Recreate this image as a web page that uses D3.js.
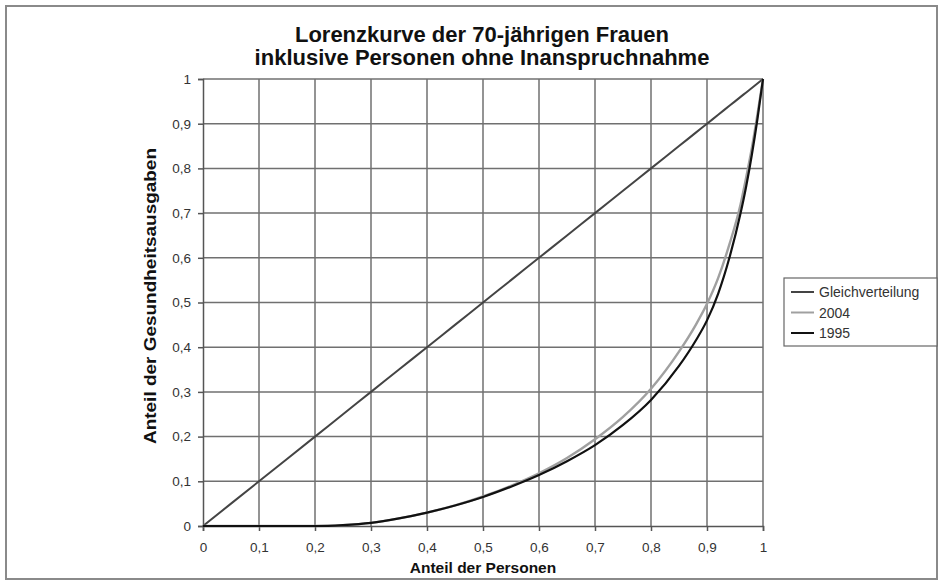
<!DOCTYPE html>
<html><head><meta charset="utf-8">
<script src="https://cdn.jsdelivr.net/npm/d3@7"></script>
<style>body{margin:0;background:#fff}svg{display:block}text{font-family:"Liberation Sans",Arial,sans-serif}</style>
</head><body>
<svg id="c" width="944" height="585"></svg>
<script>
const titleLines = ["Lorenzkurve der 70-jährigen Frauen", "inklusive Personen ohne Inanspruchnahme"];
const xLabel = "Anteil der Personen";
const yLabel = "Anteil der Gesundheitsausgaben";
const tickValues = [0,0.1,0.2,0.3,0.4,0.5,0.6,0.7,0.8,0.9,1];
const tickLabels = ["0","0,1","0,2","0,3","0,4","0,5","0,6","0,7","0,8","0,9","1"];
const seriesNames = ["Gleichverteilung","2004","1995"];
const xShare = [0,0.1,0.2,0.25,0.3,0.35,0.4,0.45,0.5,0.55,0.6,0.65,0.7,0.75,0.8,0.85,0.88,0.9,0.92,0.94,0.96,0.97,0.98,0.99,1];
const equal = xShare.slice();
const y2004 = [0,0,0,0.002,0.007,0.017,0.03,0.046,0.066,0.09,0.118,0.152,0.194,0.244,0.307,0.39,0.45,0.497,0.555,0.63,0.72,0.78,0.845,0.92,1];
const y1995 = [0,0,0,0.002,0.007,0.017,0.03,0.046,0.065,0.088,0.114,0.145,0.181,0.226,0.282,0.358,0.415,0.46,0.52,0.60,0.70,0.76,0.83,0.91,1];

const svg = d3.select("#c");
const L=203, R=763, T=79, B=526;
const x = d3.scaleLinear().domain([0,1]).range([L,R]);
const y = d3.scaleLinear().domain([0,1]).range([B,T]);

svg.append("rect").attr("x",6).attr("y",6).attr("width",931).attr("height",573)
  .attr("fill","#fff").attr("stroke","#8a8a8a").attr("stroke-width",2);

svg.selectAll("text.title").data(titleLines).join("text").attr("class","title")
  .attr("x",482).attr("y",(d,i)=>42+i*23).attr("text-anchor","middle")
  .attr("font-size",22).attr("font-weight","bold").attr("fill","#111").text(d=>d);

// grid
const g = svg.append("g");
g.selectAll("line.vg").data(tickValues.slice(1)).join("line").attr("class","vg")
  .attr("x1",d=>x(d)).attr("x2",d=>x(d)).attr("y1",y(0)).attr("y2",y(1))
  .attr("stroke","#707070").attr("stroke-width",1.5);
g.selectAll("line.hg").data(tickValues.slice(1)).join("line").attr("class","hg")
  .attr("x1",x(0)).attr("x2",x(1)).attr("y1",d=>y(d)).attr("y2",d=>y(d))
  .attr("stroke","#707070").attr("stroke-width",1.5);

// axes
const xAxis = d3.axisBottom(x).tickValues(tickValues).tickFormat((d,i)=>tickLabels[i]).tickSize(5).tickPadding(11);
const yAxis = d3.axisLeft(y).tickValues(tickValues).tickFormat((d,i)=>tickLabels[i]).tickSize(5).tickPadding(7);
const gx = svg.append("g").attr("transform",`translate(0,${B})`).call(xAxis);
const gy = svg.append("g").attr("transform",`translate(${L},0)`).call(yAxis);
[gx,gy].forEach(a=>{
  a.select(".domain").attr("stroke","#555").attr("stroke-width",1.5);
  a.selectAll(".tick line").attr("stroke","#555").attr("stroke-width",1.5);
  a.selectAll(".tick text").attr("font-size",13.5).attr("fill","#333").attr("font-family","Liberation Sans, Arial, sans-serif");
});

svg.append("text").attr("x",483).attr("y",573).attr("text-anchor","middle")
  .attr("font-size",15.5).attr("font-weight","bold").attr("fill","#111").text(xLabel);
svg.append("text").attr("transform","translate(156,296) rotate(-90)").attr("text-anchor","middle")
  .attr("font-size",16.5).attr("font-weight","bold").attr("fill","#111")
  .attr("textLength",296).attr("lengthAdjust","spacingAndGlyphs").text(yLabel);

// lines
const line = d3.line().curve(d3.curveMonotoneX);
const series = [
  {name:seriesNames[0], vals:equal, color:"#444", w:2},
  {name:seriesNames[1], vals:y2004, color:"#a0a0a0", w:2.4},
  {name:seriesNames[2], vals:y1995, color:"#111", w:2.2}
];
series.forEach(s=>{
  svg.append("path").attr("d",line(xShare.map((v,i)=>[x(v),y(s.vals[i])])))
    .attr("fill","none").attr("stroke",s.color).attr("stroke-width",s.w);
});

// legend
const lg = svg.append("g");
lg.append("rect").attr("x",784).attr("y",278).attr("width",153).attr("height",68)
  .attr("fill","#fff").attr("stroke","#666").attr("stroke-width",1.2);
series.forEach((s,i)=>{
  const yy = 292 + i*20.5;
  lg.append("line").attr("x1",791).attr("x2",814).attr("y1",yy).attr("y2",yy)
    .attr("stroke",s.color).attr("stroke-width",2);
  lg.append("text").attr("x",819).attr("y",yy+5).attr("font-size",14).attr("fill","#333")
    .text(s.name);
});
</script>
</body></html>
